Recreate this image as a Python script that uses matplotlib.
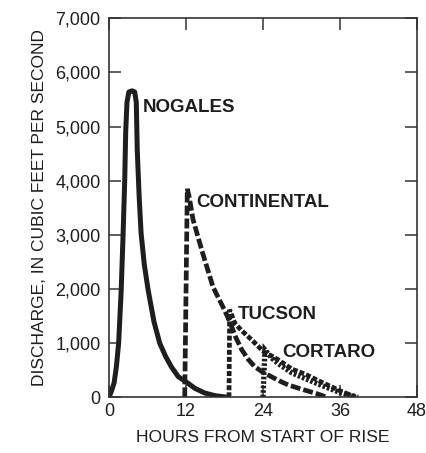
import matplotlib
matplotlib.use("Agg")
import matplotlib.pyplot as plt

plt.rcParams['font.family'] = ['Liberation Sans', 'DejaVu Sans']

# ---- data (hours from start of rise, discharge in cfs) ----
nogales_hours = [0, 0.4, 0.8, 1.15, 1.5, 1.9, 2.2, 2.45, 2.6, 2.8, 3.1, 3.6, 4.0, 4.25, 4.4,
                 4.7, 5.0, 5.5, 6.1, 7.0, 7.9, 8.8, 9.7, 10.8, 12.3, 13.4, 14.9, 16.5, 18.5]
nogales_cfs = [0, 120, 270, 565, 1000, 1980, 3030, 4020, 4900, 5450, 5640, 5660, 5640, 5450, 4570,
               3700, 3030, 2450, 1980, 1400, 1000, 760, 565, 380, 260, 165, 80, 30, 0]

continental_hours = [11.8, 12.2, 12.5, 13.1, 14.6, 16.2, 18.0, 18.8, 19.7, 20.7, 21.7, 22.7,
                     24.0, 25.3, 26.6, 27.9, 30.0, 32.3, 34.0]
continental_cfs = [0, 3850, 3700, 3280, 2660, 2040, 1610, 1400, 1120, 875, 700, 565,
                   460, 380, 300, 230, 150, 70, 0]

tucson_hours = [18.7, 18.8, 19.6, 20.6, 21.7, 22.5, 23.3, 24.3, 25.4, 26.4, 28.5, 30.5, 33.1, 36.2, 38.5]
tucson_cfs = [0, 1620, 1370, 1240, 1120, 1030, 935, 820, 760, 690, 520, 430, 280, 110, 0]

cortaro_hours = [24.0, 24.3, 25.4, 26.4, 28.5, 30.5, 33.1, 36.2, 38.8]
cortaro_cfs = [0, 875, 720, 620, 450, 350, 220, 80, 0]

x_ticks = [0, 12, 24, 36, 48]
y_ticks = [0, 1000, 2000, 3000, 4000, 5000, 6000, 7000]
y_tick_labels = ["0", "1,000", "2,000", "3,000", "4,000", "5,000", "6,000", "7,000"]

station_labels = ["NOGALES", "CONTINENTAL", "TUCSON", "CORTARO"]
label_x = [5.25, 13.65, 20.05, 27.05]
label_y = [5350, 3590, 1520, 820]

# ---- figure ----
fig = plt.figure(figsize=(4.27, 4.53), dpi=100)
ax = fig.add_axes([0.2553, 0.1230, 0.7213, 0.8366])

ink = "#1e1e1e"
lw = 3.4
ax.plot(nogales_hours, nogales_cfs, color=ink, lw=3.6,
        solid_joinstyle='round', solid_capstyle='round')
ax.plot(continental_hours, continental_cfs, color=ink, lw=lw,
        dashes=(2.1, 0.65), dash_joinstyle='miter', dash_capstyle='butt')
ax.plot(tucson_hours, tucson_cfs, color=ink, lw=lw,
        dashes=(1.05, 0.45), dash_joinstyle='miter', dash_capstyle='butt')
ax.plot(cortaro_hours, cortaro_cfs, color=ink, lw=3.8,
        dashes=(0.5, 0.35), dash_joinstyle='miter', dash_capstyle='butt')

for s, lx, ly in zip(station_labels, label_x, label_y):
    ax.text(lx, ly, s, fontsize=13.5, fontweight='bold', color=ink,
            ha='left', va='center')

ax.set_xlim(0, 48)
ax.set_ylim(0, 7000)
ax.set_xticks(x_ticks)
ax.set_xticklabels([str(v) for v in x_ticks])
ax.set_yticks(y_ticks)
ax.set_yticklabels(y_tick_labels)

ax.tick_params(axis='both', direction='in', length=8.5, width=1.1, color="#333333",
               labelsize=13, labelcolor=ink, top=True, right=True)
ax.tick_params(axis='y', pad=6)
ax.tick_params(axis='x', pad=4)

for sp in ax.spines.values():
    sp.set_linewidth(1.2)
    sp.set_color("#333333")

ax.set_xlabel("HOURS FROM START OF RISE", fontsize=12.6, color=ink, labelpad=7)
ax.set_ylabel("DISCHARGE, IN CUBIC FEET PER SECOND", fontsize=12.5, color=ink, labelpad=6)

fig.savefig("out.png", dpi=100, facecolor="white")
